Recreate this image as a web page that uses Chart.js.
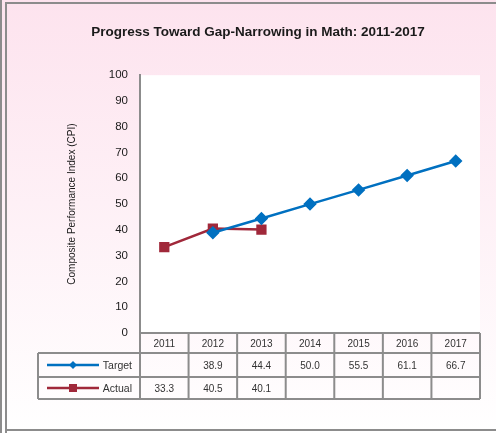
<!DOCTYPE html>
<html><head><meta charset="utf-8">
<script src="https://cdn.jsdelivr.net/npm/chart.js@4.4.1/dist/chart.umd.min.js"></script>
<style>html,body{margin:0;padding:0;background:#fff;overflow:hidden}</style>
</head><body>
<canvas id="c" width="496" height="433" style="display:block;width:496px;height:433px"></canvas>
<script>
const years = ['2011','2012','2013','2014','2015','2016','2017'];
const targetValues = [null, 38.9, 44.4, 50.0, 55.5, 61.1, 66.7];
const actualValues = [33.3, 40.5, 40.1, null, null, null, null];
const seriesNames = ['Target', 'Actual'];
const seriesColors = ['#0070C0', '#A0283A'];
const chartTitle = 'Progress Toward Gap-Narrowing in Math: 2011-2017';
const yTitle = 'Composite Performance Index (CPI)';

const SANS = "'Liberation Sans', Arial, sans-serif";
const GRID = '#8c8c8c';

const bgPlugin = {
  id: 'bg',
  beforeDraw(chart) {
    const {ctx, width, height, chartArea: a} = chart;
    ctx.save();
    const g = ctx.createLinearGradient(0, 0, 0, height);
    g.addColorStop(0, '#FDE3EE');
    g.addColorStop(1, '#FFFFFF');
    ctx.fillStyle = g;
    ctx.fillRect(0, 0, width, height);
    ctx.fillStyle = '#ffffff';
    ctx.fillRect(a.left, a.top, a.right - a.left, a.bottom - a.top);
    ctx.fillStyle = GRID;
    ctx.fillRect(0, 0, 2, height);
    ctx.fillRect(5, 2, 2, height - 2);
    ctx.fillRect(5, 2, width - 5, 2);
    ctx.fillRect(5, 429, width - 5, 2);
    ctx.restore();
  }
};

const tablePlugin = {
  id: 'dataTable',
  afterDraw(chart) {
    const {ctx, chartArea: a} = chart;
    const xs = chart.scales.x;
    const n = years.length;
    const w = (a.right - a.left) / n;
    const y0 = a.bottom, y1 = y0 + 20, y2 = y1 + 24, y3 = y2 + 22;
    const tableLeft = 38;
    ctx.save();
    ctx.strokeStyle = GRID;
    ctx.lineWidth = 2;
    ctx.beginPath();
    ctx.moveTo(a.left, y0); ctx.lineTo(a.right, y0);
    [y1, y2, y3].forEach(y => { ctx.moveTo(tableLeft, y); ctx.lineTo(a.right, y); });
    for (let i = 0; i <= n; i++) {
      const x = a.left + i * w;
      ctx.moveTo(x, y0); ctx.lineTo(x, y3);
    }
    ctx.moveTo(tableLeft, y1); ctx.lineTo(tableLeft, y3);
    ctx.stroke();

    const rows = [targetValues, actualValues];
    const rowMid = [(y1 + y2) / 2, (y2 + y3) / 2];
    ctx.font = '10px ' + SANS;
    ctx.fillStyle = '#333';
    ctx.textAlign = 'center';
    ctx.textBaseline = 'middle';
    rows.forEach((vals, r) => {
      vals.forEach((v, i) => {
        if (v === null || v === undefined) return;
        ctx.fillText(v.toFixed(1), xs.getPixelForValue(i), rowMid[r] + 1);
      });
    });
    rows.forEach((vals, r) => {
      const ym = rowMid[r];
      const col = seriesColors[r];
      ctx.strokeStyle = col;
      ctx.lineWidth = 2.5;
      ctx.beginPath();
      ctx.moveTo(47, ym); ctx.lineTo(99, ym);
      ctx.stroke();
      ctx.fillStyle = col;
      ctx.beginPath();
      if (r === 0) {
        ctx.moveTo(73, ym - 4); ctx.lineTo(77, ym); ctx.lineTo(73, ym + 4); ctx.lineTo(69, ym);
        ctx.closePath();
      } else {
        ctx.rect(69, ym - 4, 8, 8);
      }
      ctx.fill();
      ctx.fillStyle = '#333';
      ctx.textAlign = 'right';
      ctx.font = '10.5px ' + SANS;
      ctx.fillText(seriesNames[r], 132, ym + 1);
    });
    ctx.restore();
  }
};

new Chart(document.getElementById('c'), {
  type: 'line',
  data: {
    labels: years,
    datasets: [
      {
        label: seriesNames[0], data: targetValues,
        borderColor: seriesColors[0], backgroundColor: seriesColors[0],
        borderWidth: 2.5, pointStyle: 'rectRot', pointRadius: 5,
        spanGaps: false, tension: 0
      },
      {
        label: seriesNames[1], data: actualValues,
        borderColor: seriesColors[1], backgroundColor: seriesColors[1],
        borderWidth: 2.5, pointStyle: 'rect', pointRadius: 5.5,
        spanGaps: false, tension: 0
      }
    ]
  },
  options: {
    responsive: false,
    animation: false,
    devicePixelRatio: 1,
    layout: { padding: { left: 36, right: 16, top: 8, bottom: 80 } },
    plugins: {
      legend: { display: false },
      tooltip: { enabled: false },
      title: {
        display: true, text: chartTitle, color: '#1a1a1a',
        font: { family: SANS, size: 13.5, weight: 'bold' },
        padding: { top: 16, bottom: 35 }
      }
    },
    scales: {
      x: {
        type: 'category', offset: true,
        grid: { display: false, drawTicks: false },
        border: { display: false },
        ticks: { color: '#333', font: { family: SANS, size: 10 }, padding: 5, maxRotation: 0, autoSkip: false },
        afterFit(s) { s.height = 20; }
      },
      y: {
        min: 0, max: 100,
        grid: { display: false, drawTicks: false },
        border: { display: true, color: GRID, width: 2 },
        ticks: { stepSize: 10, color: '#1a1a1a', font: { family: SANS, size: 11.5 }, padding: 12 },
        title: { display: true, text: yTitle, color: '#1a1a1a', font: { family: SANS, size: 10 }, padding: { top: 30, bottom: 0 } },
        afterFit(s) { s.width = 104; }
      }
    }
  },
  plugins: [bgPlugin, tablePlugin]
});
</script>
</body></html>
